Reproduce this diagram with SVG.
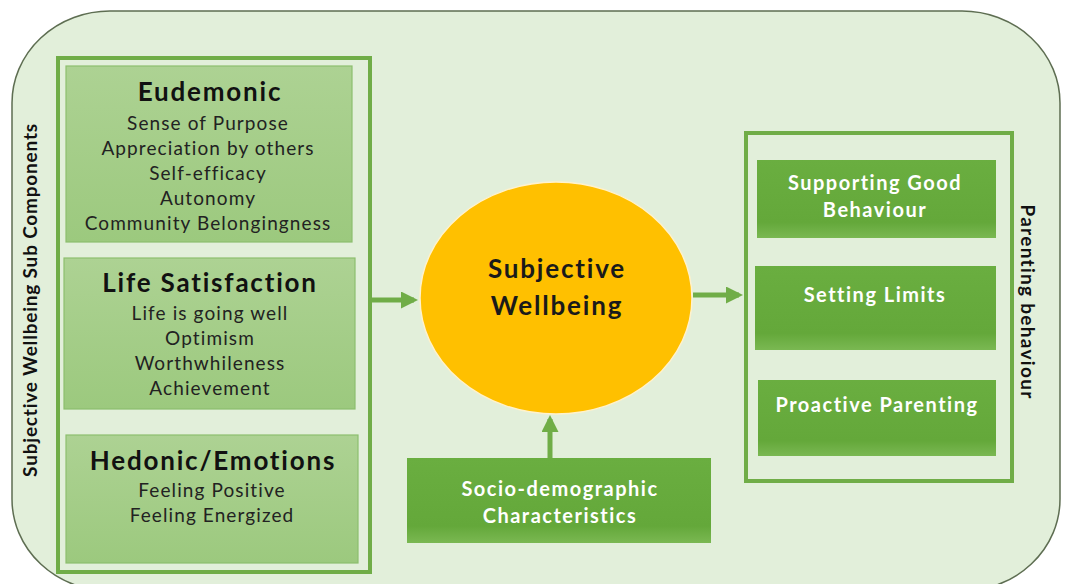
<svg xmlns="http://www.w3.org/2000/svg" width="1067" height="584" viewBox="0 0 1067 584">
<defs>
<style>
.t{font-family:Lato,"Open Sans",sans-serif;text-anchor:middle}
.h{font-weight:bold;font-size:26px;letter-spacing:1.8px;fill:#111}
.i{font-size:19px;letter-spacing:1.1px;fill:#222}
.w{font-weight:bold;font-size:20px;letter-spacing:1.5px;fill:#fff}
.frame{fill:none;stroke:#70AD47;stroke-width:4}
.lbox{fill:url(#lg);stroke:#8DBE6E;stroke-width:1.2}
.gbox{fill:url(#dg);stroke:none}
.con{stroke:#70AD47;stroke-width:5;fill:none}
</style>
<linearGradient id="lg" x1="0" y1="0" x2="0" y2="1"><stop offset="0" stop-color="#ADD293"/><stop offset="1" stop-color="#9CC97E"/></linearGradient>
<linearGradient id="dg" x1="0" y1="0" x2="0" y2="1"><stop offset="0" stop-color="#6AAE40"/><stop offset="0.8" stop-color="#64A83A"/><stop offset="1" stop-color="#7AB852"/></linearGradient>
<marker id="ah" markerWidth="3.4" markerHeight="3.4" refX="2.6" refY="1.7" orient="auto" markerUnits="strokeWidth"><path d="M0,0 L3.4,1.7 L0,3.4 Z" fill="#70AD47"/></marker>
</defs>
<rect x="0" y="0" width="1067" height="584" fill="#fff"/>
<rect id="outer" x="12" y="11" width="1048" height="580" rx="98" ry="92" fill="#E2EFDA" stroke="#5E6E52" stroke-width="1.5"/>

<g id="left-group">
<rect class="frame" x="58" y="58" width="312" height="514"/>
<text class="t" x="37" y="300" transform="rotate(-90 37 300)" style="font-weight:bold;font-size:19px;letter-spacing:0.8px;fill:#111">Subjective Wellbeing Sub Components</text>
</g>

<g id="eudemonic">
<rect class="lbox" x="66" y="66" width="286" height="176"/>
<text class="t h" x="210" y="101">Eudemonic</text>
<text class="t i" x="208" y="130">Sense of Purpose</text>
<text class="t i" x="208" y="155">Appreciation by others</text>
<text class="t i" x="208" y="180">Self-efficacy</text>
<text class="t i" x="208" y="205">Autonomy</text>
<text class="t i" x="208" y="230">Community Belongingness</text>
</g>

<g id="life-satisfaction">
<rect class="lbox" x="64" y="258" width="291" height="151"/>
<text class="t h" x="210" y="292">Life Satisfaction</text>
<text class="t i" x="210" y="320">Life is going well</text>
<text class="t i" x="210" y="345">Optimism</text>
<text class="t i" x="210" y="370">Worthwhileness</text>
<text class="t i" x="210" y="395">Achievement</text>
</g>

<g id="hedonic">
<rect class="lbox" x="66" y="435" width="292" height="128"/>
<text class="t h" x="213" y="470">Hedonic/Emotions</text>
<text class="t i" x="212" y="497">Feeling Positive</text>
<text class="t i" x="212" y="522">Feeling Energized</text>
</g>

<g id="subjective-wellbeing">
<ellipse cx="556" cy="298" rx="136" ry="116" fill="#FFC000" stroke="#FFF2CC" stroke-width="1.5"/>
<text class="t" x="557" y="278" style="font-weight:bold;font-size:26px;letter-spacing:1.8px;fill:#1a1a1a">Subjective</text>
<text class="t" x="557" y="315" style="font-weight:bold;font-size:26px;letter-spacing:1.8px;fill:#1a1a1a">Wellbeing</text>
</g>

<g id="socio">
<rect class="gbox" x="407" y="458" width="304" height="85"/>
<text class="t w" x="560" y="496">Socio-demographic</text>
<text class="t w" x="560" y="523">Characteristics</text>
</g>

<g id="parenting-group">
<rect class="frame" x="746" y="133" width="266" height="348"/>
<text class="t" x="1021" y="302" transform="rotate(90 1021 302)" style="font-weight:bold;font-size:19px;letter-spacing:1.3px;fill:#111">Parenting behaviour</text>
</g>

<g id="supporting">
<rect class="gbox" x="757" y="160" width="239" height="78"/>
<text class="t w" x="875" y="190">Supporting Good</text>
<text class="t w" x="875" y="217">Behaviour</text>
</g>

<g id="setting-limits">
<rect class="gbox" x="755" y="266" width="241" height="84"/>
<text class="t w" x="875" y="302">Setting Limits</text>
</g>

<g id="proactive">
<rect class="gbox" x="758" y="380" width="238" height="76"/>
<text class="t w" x="877" y="412">Proactive Parenting</text>
</g>

<g id="connectors">
<line class="con" x1="371" y1="300" x2="414" y2="300" marker-end="url(#ah)"/>
<line class="con" x1="693" y1="295" x2="739" y2="295" marker-end="url(#ah)"/>
<line class="con" x1="550" y1="458" x2="550" y2="419" marker-end="url(#ah)"/>
</g>
</svg>
